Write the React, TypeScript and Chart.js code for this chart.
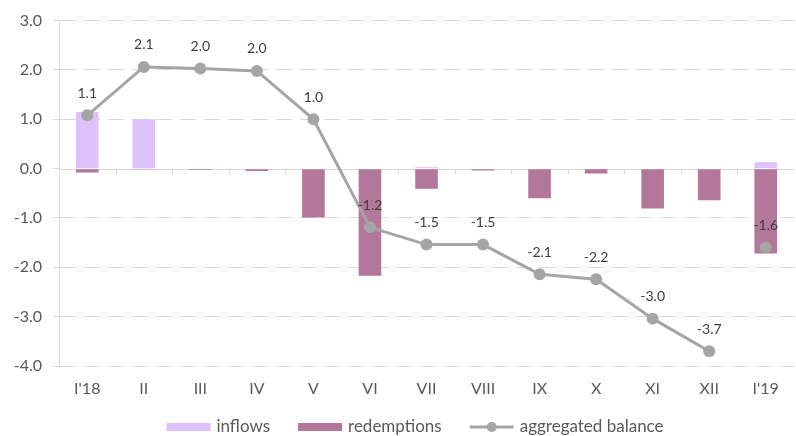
import React, { useEffect, useRef } from "react";
import { Chart, registerables } from "chart.js";

Chart.register(...registerables);

const categories = ["I'18", "II", "III", "IV", "V", "VI", "VII", "VIII", "IX", "X", "XI", "XII", "I'19"];
const inflows = [1.15, 1.0, 0, 0, 0, 0, 0.03, 0, 0, 0, 0, 0, 0.13];
const redemptions = [-0.08, -0.02, -0.03, -0.05, -0.99, -2.17, -0.41, -0.04, -0.6, -0.1, -0.81, -0.64, -1.72];
const balance = [1.08, 2.06, 2.03, 1.98, 1.0, -1.19, -1.54, -1.54, -2.14, -2.24, -3.04, -3.7, -1.6];
const yMin = -4;
const yMax = 3;
const yStep = 1;
const seriesNames = ["inflows", "redemptions", "aggregated balance"];

const INFLOW_COLOR = "#DDC2FC";
const REDEMPTION_COLOR = "#B3779A";
const LINE_COLOR = "#A5A5A5";
const GRID_COLOR = "#D9D9D9";
const TEXT_COLOR = "#595959";
const FONT = "Lato, 'Open Sans', sans-serif";

const decorPlugin = {
  id: "decor",
  beforeDatasetsDraw(chart: any) {
    const { ctx, chartArea } = chart;
    const x = chart.scales.x;
    const y = chart.scales.y;
    const y0 = Math.round(y.getPixelForValue(0)) + 0.5;
    ctx.save();
    ctx.strokeStyle = GRID_COLOR;
    ctx.lineWidth = 1;
    ctx.setLineDash([]);
    ctx.beginPath();
    ctx.moveTo(chartArea.left, y0);
    ctx.lineTo(chartArea.right, y0);
    const half = (x.getPixelForValue(1) - x.getPixelForValue(0)) / 2;
    for (let i = 1; i < categories.length; i++) {
      const bx = Math.round(x.getPixelForValue(i) - half) + 0.5;
      ctx.moveTo(bx, y0);
      ctx.lineTo(bx, y0 + 5);
    }
    ctx.stroke();
    ctx.restore();
  },
  afterDatasetsDraw(chart: any) {
    const { ctx } = chart;
    const meta = chart.getDatasetMeta(0);
    ctx.save();
    ctx.font = `14px ${FONT}`;
    ctx.fillStyle = "#404040";
    ctx.textAlign = "center";
    ctx.textBaseline = "middle";
    meta.data.forEach((pt: any, i: number) => {
      ctx.fillText(balance[i].toFixed(1), pt.x, pt.y - 22);
    });
    ctx.restore();
  },
  afterDraw(chart: any) {
    const { ctx, height } = chart;
    ctx.save();
    ctx.font = `17px ${FONT}`;
    ctx.textBaseline = "middle";
    const boxW = 44;
    const textGap = 6;
    const itemGap = 28;
    const widths = seriesNames.map((n) => ctx.measureText(n).width);
    const total = widths.reduce((a, b) => a + b, 0) + 3 * (boxW + textGap) + 2 * itemGap;
    let cx = 415 - total / 2;
    const cy = height - 9;
    seriesNames.forEach((name, i) => {
      if (i < 2) {
        ctx.fillStyle = i === 0 ? INFLOW_COLOR : REDEMPTION_COLOR;
        ctx.fillRect(cx, cy - 4, boxW, 8);
      } else {
        ctx.strokeStyle = LINE_COLOR;
        ctx.lineWidth = 3;
        ctx.beginPath();
        ctx.moveTo(cx, cy);
        ctx.lineTo(cx + boxW, cy);
        ctx.stroke();
        ctx.fillStyle = LINE_COLOR;
        ctx.beginPath();
        ctx.arc(cx + boxW / 2, cy, 5, 0, Math.PI * 2);
        ctx.fill();
      }
      ctx.fillStyle = TEXT_COLOR;
      ctx.textAlign = "left";
      ctx.fillText(name, cx + boxW + textGap, cy);
      cx += boxW + textGap + widths[i] + itemGap;
    });
    ctx.restore();
  },
};

export default function App() {
  const ref = useRef<HTMLCanvasElement | null>(null);
  useEffect(() => {
    if (!ref.current) return;
    const chart = new Chart(ref.current, {
      type: "bar",
      data: {
        labels: categories,
        datasets: [
          {
            type: "line",
            label: seriesNames[2],
            data: balance,
            stack: "line",
            borderColor: LINE_COLOR,
            backgroundColor: LINE_COLOR,
            borderWidth: 3,
            pointRadius: 6,
            pointBackgroundColor: LINE_COLOR,
            pointBorderWidth: 0,
            tension: 0,
            order: 0,
            segment: {
              borderColor: (c: any) => (c.p1DataIndex === categories.length - 1 ? "rgba(0,0,0,0)" : LINE_COLOR),
            },
          } as any,
          {
            type: "bar",
            label: seriesNames[0],
            data: inflows,
            stack: "bars",
            backgroundColor: INFLOW_COLOR,
            barPercentage: 0.4,
            categoryPercentage: 1,
            order: 1,
          },
          {
            type: "bar",
            label: seriesNames[1],
            data: redemptions,
            stack: "bars",
            backgroundColor: REDEMPTION_COLOR,
            barPercentage: 0.4,
            categoryPercentage: 1,
            order: 1,
          },
        ],
      },
      options: {
        responsive: false,
        animation: false,
        devicePixelRatio: 1,
        layout: { padding: { top: 20, bottom: 40, left: 0, right: 0 } },
        plugins: { legend: { display: false }, tooltip: { enabled: false } },
        scales: {
          x: {
            stacked: true,
            grid: { display: false, drawTicks: false },
            border: { display: false },
            ticks: { color: TEXT_COLOR, font: { family: FONT, size: 16 }, padding: 13, maxRotation: 0, autoSkip: false },
            afterFit: (s: any) => {
              s.height = 30;
            },
          },
          y: {
            stacked: true,
            min: yMin,
            max: yMax,
            ticks: {
              stepSize: yStep,
              color: TEXT_COLOR,
              font: { family: FONT, size: 16 },
              padding: 11,
              callback: (v: any) => Number(v).toFixed(1),
            },
            grid: {
              color: (c: any) => (c.tick && c.tick.value === 0 ? "rgba(0,0,0,0)" : GRID_COLOR),
              tickColor: GRID_COLOR,
              tickLength: 6,
              lineWidth: 1,
            },
            border: { display: true, color: GRID_COLOR, dash: [16, 8] },
            afterFit: (s: any) => {
              s.width = 59;
            },
          },
        },
      },
      plugins: [decorPlugin],
    });
    return () => chart.destroy();
  }, []);
  return (
    <div style={{ position: "absolute", left: 0, top: 0, width: 796, height: 436, overflow: "hidden", background: "#fff" }}>
      <canvas ref={ref} width={800} height={436} style={{ width: 800, height: 436, display: "block" }} />
    </div>
  );
}
